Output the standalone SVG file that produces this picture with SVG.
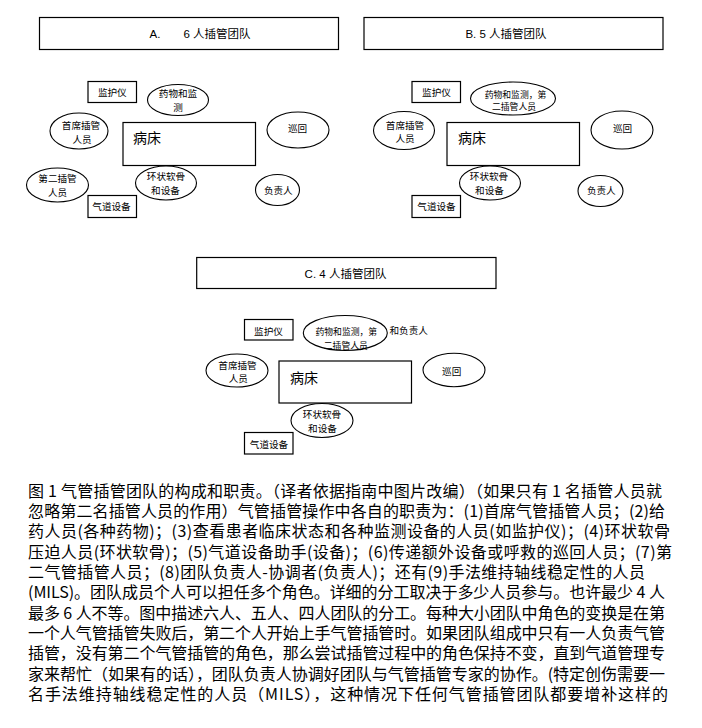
<svg xmlns="http://www.w3.org/2000/svg" width="702" height="728" viewBox="0 0 702 728">
<style>
.bg{fill:#fff}
.box{fill:#fff;stroke:#000;stroke-width:1.2}
.ell{fill:#fff;stroke:#000;stroke-width:1.1}
.t{font-family:"Liberation Sans","Noto Sans CJK SC",sans-serif;fill:#000;text-anchor:middle}
.s{font-size:9.6px}
.xs{font-size:8.8px}
.ttl{font-size:11.5px}
.bed{font-family:"Liberation Sans","Noto Sans CJK SC",sans-serif;font-size:14px;fill:#000}
.cap{font-family:"Noto Sans CJK SC",sans-serif;font-size:16px;fill:#000}
</style>
<rect class="bg" x="0" y="0" width="702" height="728"/>
<g id="connectors"/>

<!-- Panel A -->
<g id="titleA"><rect class="box" x="39.5" y="17.5" width="299" height="32"/>
<text class="t ttl" x="155" y="37.5">A.</text><text class="t ttl" x="217" y="37.5">6 人插管团队</text></g>
<g id="A-monitor"><rect class="box" x="88" y="81.5" width="48.5" height="21"/><text class="t s" x="112.3" y="95.5">监护仪</text></g>
<g id="A-drugs"><ellipse class="ell" cx="178" cy="100" rx="30.5" ry="15.5"/><text class="t s" x="178" y="97">药物和监</text><text class="t s" x="178" y="110.5">测</text></g>
<g id="A-lead"><ellipse class="ell" cx="79" cy="131" rx="29" ry="18"/><text class="t s" x="81" y="128.5">首席插管</text><text class="t s" x="82" y="143">人员</text></g>
<g id="A-bed"><rect class="box" x="123" y="122.5" width="132.5" height="43"/><text class="bed" x="133" y="143">病床</text></g>
<g id="A-runner"><ellipse class="ell" cx="298" cy="130" rx="31" ry="18"/><text class="t s" x="297.5" y="132">巡回</text></g>
<g id="A-second"><ellipse class="ell" cx="57.5" cy="185" rx="31" ry="17"/><text class="t s" x="57.5" y="181.5">第二插管</text><text class="t s" x="57.5" y="195.5">人员</text></g>
<g id="A-cricoid"><ellipse class="ell" cx="166" cy="183" rx="30.5" ry="17"/><text class="t s" x="166" y="179.5">环状软骨</text><text class="t s" x="165.5" y="193.5">和设备</text></g>
<g id="A-leader"><ellipse class="ell" cx="277.5" cy="190" rx="22" ry="15.5"/><text class="t s" x="278.3" y="193.5">负责人</text></g>
<g id="A-airway"><rect class="box" x="88" y="195.5" width="48.5" height="22"/><text class="t s" x="111.5" y="209.5">气道设备</text></g>

<!-- Panel B -->
<g id="titleB"><rect class="box" x="364" y="17.5" width="299" height="32"/>
<text class="t ttl" x="506" y="37.5">B. 5 人插管团队</text></g>
<g id="B-monitor"><rect class="box" x="412" y="81.5" width="48.5" height="21"/><text class="t s" x="436.5" y="96">监护仪</text></g>
<g id="B-drugs"><ellipse class="ell" cx="513" cy="98.5" rx="42.5" ry="16.5"/><text class="t xs" x="515.5" y="98">药物和监测，第</text><text class="t xs" x="514" y="110">二插管人员</text></g>
<g id="B-lead"><ellipse class="ell" cx="404" cy="130.5" rx="30.5" ry="19"/><text class="t s" x="405" y="128.5">首席插管</text><text class="t s" x="405" y="142">人员</text></g>
<g id="B-bed"><rect class="box" x="447" y="122.5" width="132.5" height="43"/><text class="bed" x="458" y="143">病床</text></g>
<g id="B-runner"><ellipse class="ell" cx="622" cy="130" rx="31" ry="19"/><text class="t s" x="622.5" y="132">巡回</text></g>
<g id="B-cricoid"><ellipse class="ell" cx="490" cy="183" rx="30.5" ry="17"/><text class="t s" x="489" y="179.5">环状软骨</text><text class="t s" x="489.5" y="193.5">和设备</text></g>
<g id="B-leader"><ellipse class="ell" cx="600.5" cy="191" rx="22.5" ry="15.5"/><text class="t s" x="601.3" y="193.5">负责人</text></g>
<g id="B-airway"><rect class="box" x="412" y="195.5" width="48.5" height="22"/><text class="t s" x="436.5" y="209.5">气道设备</text></g>

<!-- Panel C -->
<g id="titleC"><rect class="box" x="196.7" y="257.5" width="299.3" height="31"/>
<text class="t ttl" x="345.5" y="278">C. 4 人插管团队</text></g>
<g id="C-monitor"><rect class="box" x="244.5" y="319.5" width="48.5" height="20.5"/><text class="t s" x="268.5" y="335">监护仪</text></g>
<g id="C-drugs"><ellipse class="ell" cx="345.3" cy="333" rx="42" ry="17.5"/><text class="t xs" x="346.3" y="335">药物和监测，第</text><text class="t xs" x="345.8" y="348.5">二插管人员</text></g>
<g id="C-leader-note"><text class="t s" x="408.7" y="333.5">和负责人</text></g>
<g id="C-lead"><ellipse class="ell" cx="237" cy="370.5" rx="31" ry="16.5"/><text class="t s" x="237.5" y="368.5">首席插管</text><text class="t s" x="238.3" y="382">人员</text></g>
<g id="C-bed"><rect class="box" x="279" y="361" width="132.5" height="42"/><text class="bed" x="290" y="383">病床</text></g>
<g id="C-runner"><ellipse class="ell" cx="454" cy="370" rx="31" ry="16.7"/><text class="t s" x="451.7" y="374.5">巡回</text></g>
<g id="C-cricoid"><ellipse class="ell" cx="322" cy="420.5" rx="31" ry="17"/><text class="t s" x="322" y="418">环状软骨</text><text class="t s" x="322.5" y="432">和设备</text></g>
<g id="C-airway"><rect class="box" x="244.5" y="432.5" width="48.5" height="21.5"/><text class="t s" x="269" y="448">气道设备</text></g>

<!-- Caption -->
<g id="caption">
<text class="cap" x="28" y="496.5" textLength="634" lengthAdjust="spacing">图 1 气管插管团队的构成和职责。（译者依据指南中图片改编）（如果只有 1 名插管人员就</text>
<text class="cap" x="28" y="516.9" textLength="637" lengthAdjust="spacing">忽略第二名插管人员的作用）气管插管操作中各自的职责为：(1)首席气管插管人员；(2)给</text>
<text class="cap" x="28" y="537.2" textLength="642" lengthAdjust="spacing">药人员(各种药物)；(3)查看患者临床状态和各种监测设备的人员(如监护仪)；(4)环状软骨</text>
<text class="cap" x="28" y="557.6" textLength="644" lengthAdjust="spacing">压迫人员(环状软骨)；(5)气道设备助手(设备)；(6)传递额外设备或呼救的巡回人员；(7)第</text>
<text class="cap" x="28" y="577.9" textLength="617" lengthAdjust="spacing">二气管插管人员；(8)团队负责人-协调者(负责人)；还有(9)手法维持轴线稳定性的人员</text>
<text class="cap" x="28" y="598.3" textLength="637" lengthAdjust="spacing">(MILS)。团队成员个人可以担任多个角色。详细的分工取决于多少人员参与。也许最少 4 人</text>
<text class="cap" x="28" y="618.6" textLength="637" lengthAdjust="spacing">最多 6 人不等。图中描述六人、五人、四人团队的分工。每种大小团队中角色的变换是在第</text>
<text class="cap" x="28" y="639" textLength="637" lengthAdjust="spacing">一个人气管插管失败后，第二个人开始上手气管插管时。如果团队组成中只有一人负责气管</text>
<text class="cap" x="28" y="659.3" textLength="637" lengthAdjust="spacing">插管，没有第二个气管插管的角色，那么尝试插管过程中的角色保持不变，直到气道管理专</text>
<text class="cap" x="28" y="679.7" textLength="637" lengthAdjust="spacing">家来帮忙（如果有的话），团队负责人协调好团队与气管插管专家的协作。(特定创伤需要一</text>
<text class="cap" x="28" y="700" textLength="640" lengthAdjust="spacing">名手法维持轴线稳定性的人员（MILS），这种情况下任何气管插管团队都要增补这样的</text>
</g>
</svg>
